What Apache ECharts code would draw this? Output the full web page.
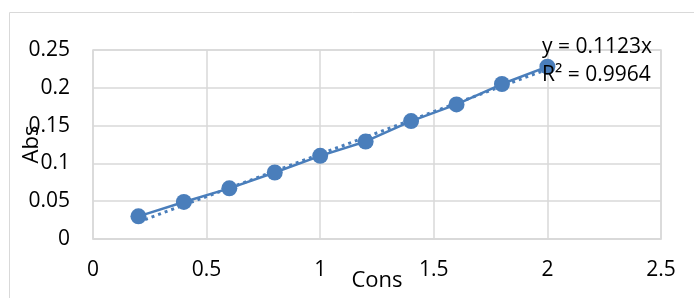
<!DOCTYPE html>
<html>
<head>
<meta charset="utf-8">
<script src="https://cdn.jsdelivr.net/npm/echarts@6/dist/echarts.min.js"></script>
<style>
  html, body { margin: 0; padding: 0; background: #fff; }
  #chart { width: 694px; height: 298px; }
</style>
</head>
<body>
<div id="chart"></div>
<script>
const cons = [0.2, 0.4, 0.6, 0.8, 1.0, 1.2, 1.4, 1.6, 1.8, 2.0];
const abs = [0.030, 0.049, 0.067, 0.088, 0.110, 0.129, 0.156, 0.178, 0.205, 0.228];
const trendX = [0.2, 2.0];
const trendY = [0.0225, 0.2246];
const equation = ["y = 0.1123x", "R² = 0.9964"];

const blue = "#4a7ebb";
const font = "Open Sans";

const chart = echarts.init(document.getElementById("chart"));
chart.setOption({
    animation: false,
    textStyle: { fontFamily: font },
    graphic: [
        {
            type: "rect",
            shape: { x: 9.5, y: 12.5, width: 700, height: 300 },
            style: { fill: "none", stroke: "#d9d9d9", lineWidth: 1 },
        },
        {
            type: "text",
            left: 542,
            top: 33,
            style: { text: equation.join("\n"), font: "21px " + font, fill: "#000", lineHeight: 28 },
            z: 10,
        },
    ],
    grid: {
        left: 93, top: 50, right: 33, bottom: 59,
        outerBoundsMode: "none",
        show: true, borderColor: "#d9d9d9", borderWidth: 1.5,
    },
    xAxis: {
        type: "value",
        min: 0,
        max: 2.5,
        interval: 0.5,
        name: "Cons",
        nameLocation: "middle",
        nameGap: 31,
        nameMoveOverlap: false,
        nameTextStyle: { fontSize: 22, color: "#000" },
        axisLine: { show: true, lineStyle: { color: "#d9d9d9", width: 1.5 } },
        axisTick: { show: false },
        axisLabel: { fontSize: 21, color: "#000", margin: 21 },
        splitLine: { show: true, lineStyle: { color: "#d9d9d9", width: 1.5 } },
    },
    yAxis: {
        type: "value",
        min: 0,
        max: 0.25,
        interval: 0.05,
        name: "Abs",
        nameLocation: "middle",
        nameGap: 50,
        nameMoveOverlap: false,
        nameTextStyle: { fontSize: 22, color: "#000" },
        axisLine: { show: false },
        axisTick: { show: false },
        axisLabel: { fontSize: 21, color: "#000", margin: 23 },
        splitLine: { show: true, lineStyle: { color: "#d9d9d9", width: 1.5 } },
    },
    series: [
        {
            type: "line",
            data: trendX.map((x, i) => [x, trendY[i]]),
            showSymbol: false,
            lineStyle: { color: blue, width: 3, type: [3, 4] },
            z: 2,
        },
        {
            type: "line",
            data: cons.map((x, i) => [x, abs[i]]),
            symbol: "circle",
            symbolSize: 16,
            itemStyle: { color: blue },
            lineStyle: { color: blue, width: 2.5 },
            z: 3,
        },
    ],
});
</script>
</body>
</html>
